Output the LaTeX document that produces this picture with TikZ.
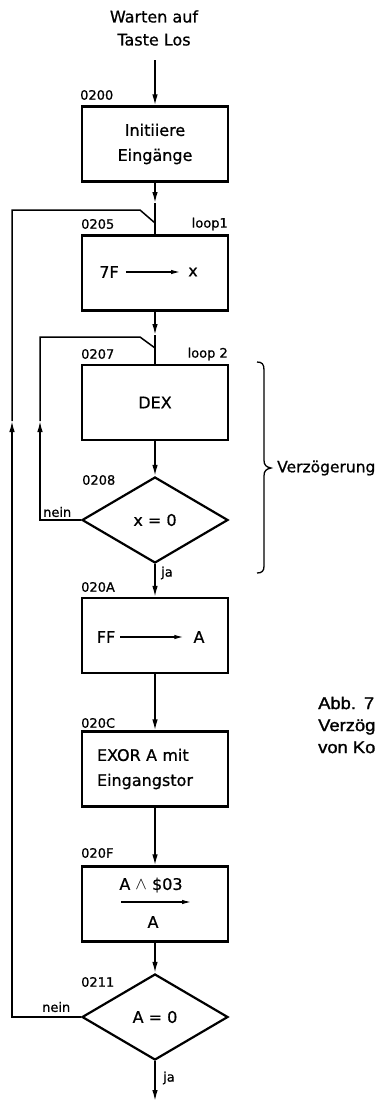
\documentclass[tikz,border=0pt]{standalone}
\usepackage{fontspec}
\setmainfont[FakeBold=0.8]{DejaVu Sans}
\newfontfamily\capfont[FakeStretch=1.08,FakeBold=1.5]{Liberation Sans}
\usetikzlibrary{shapes.geometric,arrows.meta}
\begin{document}
\begin{tikzpicture}[x=1pt,y=-1pt,
  box/.style={draw,line width=2.2pt,minimum width=146pt,minimum height=75pt,inner sep=0pt,
    font=\fontsize{16}{25}\selectfont,align=center},
  dec/.style={draw,shape=diamond,aspect=1.7,line width=2.2pt,minimum width=146pt,
    minimum height=86pt,inner sep=0pt,font=\fontsize{16}{20}\selectfont},
  lbl/.style={font=\fontsize{13}{15}\selectfont,inner sep=0pt},
  txt/.style={font=\fontsize{16}{23}\selectfont,inner sep=0pt},
  conn/.style={line width=1.5pt},
  arr/.style={conn,-{Latex[length=11pt,width=5.5pt]}},
  inarr/.style={line width=1.2pt,-{Latex[length=9pt,width=4.5pt]}},
  captxt/.style={font=\capfont\fontsize{17}{22}\selectfont,inner sep=0pt,align=left}
]
\useasboundingbox (0,0) rectangle (378,1103);

% title
\node[txt,align=center] (title) at (154,28) {Warten auf\\Taste Los};
\coordinate (start) at (155,60);

% boxes
\node[box] (b1) at (155,144) {Initiiere\\Eingänge};
\node[box] (b2) at (155,273) {};
\node[box] (b3) at (155,402.5) {DEX};
\node[dec] (d1) at (155,520) {x = 0};
\node[box] (b4) at (155,635.5) {};
\node[box,text width=116pt,align=left] (b5) at (155,769) {EXOR A mit\\Eingangstor};
\node[box] (b6) at (155,904) {};
\node[dec] (d2) at (155,1017) {A = 0};

% box contents
\node[txt] (s7F) at (109,272) {7F};
\node[txt] (sx) at (193,272) {x};
\draw[inarr] ([xshift=7pt]s7F.east) -- ([xshift=-8pt]sx.west);
\node[txt] (sFF) at (106,637) {FF};
\node[txt] (sA1) at (199,637) {A};
\draw[inarr] ([xshift=5pt]sFF.east) -- ([xshift=-10pt]sA1.west);
\node[txt] (sand) at (151,885) {A $\wedge$ \$03};
\node[txt] (sA2) at (153,922) {A};
\coordinate (ia) at (121,902);
\coordinate (ib) at (191,902);
\draw[inarr] (ia) -- (ib);

% address labels
\node[lbl,anchor=west] (a0200) at (80,95) {0200};
\node[lbl,anchor=west] (a0205) at (81,224) {0205};
\node[lbl,anchor=east] (loopa) at (228,224) {loop1};
\node[lbl,anchor=west] (a0207) at (81,354) {0207};
\node[lbl,anchor=east] (loopb) at (228,354) {loop 2};
\node[lbl,anchor=west] (a0208) at (82,480) {0208};
\node[lbl,anchor=west] (nein1) at (43,512) {nein};
\node[lbl,anchor=west] (ja1) at (161,573) {ja};
\node[lbl,anchor=west] (a020A) at (81,587) {020A};
\node[lbl,anchor=west] (a020C) at (81,723) {020C};
\node[lbl,anchor=west] (a020F) at (81,853) {020F};
\node[lbl,anchor=west] (a0211) at (81,982) {0211};
\node[lbl,anchor=west] (nein2) at (42,1007) {nein};
\node[lbl,anchor=west] (ja2) at (163,1078) {ja};

% main flow
\draw[arr] (start) -- (b1.north);
\coordinate (m1) at (155,203);
\draw[arr] (b1.south) -- (m1);
\draw[conn] (m1) -- (b2.north);
\coordinate (m2) at (155,335);
\draw[arr] (b2.south) -- (m2);
\draw[conn] (m2) -- (b3.north);
\draw[arr] (b3.south) -- (d1.north);
\draw[arr] (d1.south) -- (b4.north);
\draw[arr] (b4.south) -- (b5.north);
\draw[arr] (b5.south) -- (b6.north);
\draw[arr] (b6.south) -- (d2.north);
\coordinate (end) at (155,1101);
\draw[arr] (d2.south) -- (end);

% loop 1
\coordinate (u1) at (12,421);
\coordinate (l1b) at (140,210);
\coordinate (j1) at (155,223);
\draw[arr] (d2.west) -| (u1);
\draw[conn] (u1) |- (l1b) -- (j1);

% loop 2
\coordinate (u2) at (40,421);
\coordinate (l2b) at (140,337);
\coordinate (j2) at (155,348);
\draw[arr] (d1.west) -| (u2);
\draw[conn] (u2) |- (l2b) -- (j2);

% brace
\draw[line width=1.3pt] (257,362) .. controls (262,362) and (264,364) .. (264,370)
  -- (264,460) .. controls (264,465) and (266,467) .. (271,468)
  .. controls (266,469) and (264,471) .. (264,476)
  -- (264,566) .. controls (264,571) and (262,573) .. (257,573);
\node[txt,anchor=west,font=\fontsize{15.5}{18}\selectfont] (verz) at (277,468) {Verzögerung};

% caption (cut at the right edge)
\node[captxt,anchor=west] (cap) at (318,725) {Abb.\hspace{8pt}7\\Verzög\\von Ko};
\end{tikzpicture}
\end{document}
